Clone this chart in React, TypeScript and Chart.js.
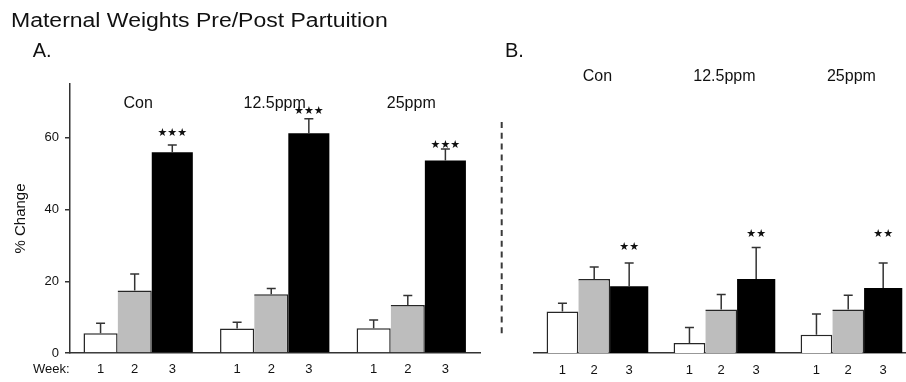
import React, { useEffect, useRef } from 'react';
import { Chart, registerables } from 'chart.js';

Chart.register(...registerables);

// ---------- data ----------
const groups = ['Con', '12.5ppm', '25ppm'];
const weekLabels = ['1', '2', '3'];
const yTicks = [0, 20, 40, 60];

// Panel A
const aWeek1 = [5.5, 6.8, 6.9];
const aWeek1Err = [2.8, 1.8, 2.3];
const aWeek2 = [17.4, 16.4, 13.4];
const aWeek2Err = [4.6, 1.6, 2.6];
const aWeek3 = [56.0, 61.3, 53.7];
const aWeek3Err = [2.0, 4.0, 3.2];
const aSig = ['★★★', '★★★', '★★★'];
const aSigLevel = [61.4, 67.5, 58.0];

// Panel B
const bWeek1 = [11.6, 2.8, 5.1];
const bWeek1Err = [2.3, 4.3, 5.8];
const bWeek2 = [20.6, 12.1, 12.1];
const bWeek2Err = [3.4, 4.2, 4.0];
const bWeek3 = [18.6, 20.6, 18.1];
const bWeek3Err = [6.5, 8.8, 7.0];
const bSig = ['★★', '★★', '★★'];
const bSigLevel = [29.5, 33.1, 33.1];

const FONT = '"Liberation Sans", Arial, Helvetica, sans-serif';
const INK = '#111111';
const LINE = '#333333';

type PanelCfg = {
  values: number[][];
  errs: number[][];
  sig: string[];
  sigLevel: number[];
  xMin: number;
  xMax: number;
  showYAxis: boolean;
  groupLabelOffset: number;
  weekLabelOffset: number;
  showWeekWord: boolean;
  dashed: boolean;
  padLeft: number;
  padRight: number;
};

function makeChart(canvas: HTMLCanvasElement, cfg: PanelCfg) {
  const fills = ['#ffffff', '#bdbdbd', '#000000'];
  const borders: any[] = [
    { left: 1.5, top: 1.5, right: 1.5, bottom: 0 },
    { left: 0, top: 1.5, right: 1.5, bottom: 0 },
    0,
  ];
  const catPct = [0.75, 0.75, 0.826];
  const barPct = [1, 1, 1.092];

  const datasets = cfg.values.map((vals, w) => ({
    label: 'Week ' + weekLabels[w],
    data: vals.map((y, i) => ({ x: i, y })),
    backgroundColor: fills[w],
    borderColor: '#262626',
    borderWidth: borders[w],
    borderSkipped: 'start',
    categoryPercentage: catPct[w],
    barPercentage: barPct[w],
  }));

  const decor = {
    id: 'decor',
    beforeDraw(chart: any) {
      if (!cfg.dashed) return;
      const ctx = chart.ctx;
      const area = chart.chartArea;
      ctx.save();
      ctx.strokeStyle = '#3a3a3a';
      ctx.lineWidth = 2;
      ctx.setLineDash([6, 4.8]);
      const x = area.left - 31.6;
      ctx.beginPath();
      ctx.moveTo(x, area.top + 38);
      ctx.lineTo(x, area.bottom - 19);
      ctx.stroke();
      ctx.restore();
    },
    afterDatasetsDraw(chart: any) {
      const ctx = chart.ctx;
      const ys = chart.scales.y;
      const area = chart.chartArea;
      ctx.save();
      // error bars
      ctx.strokeStyle = LINE;
      ctx.lineWidth = 1.5;
      cfg.values.forEach((vals, w) => {
        const meta = chart.getDatasetMeta(w);
        meta.data.forEach((bar: any, i: number) => {
          const top = ys.getPixelForValue(vals[i] + cfg.errs[w][i]);
          ctx.beginPath();
          ctx.moveTo(bar.x, bar.y);
          ctx.lineTo(bar.x, top);
          ctx.moveTo(bar.x - 4.5, top);
          ctx.lineTo(bar.x + 4.5, top);
          ctx.stroke();
        });
      });
      // week labels
      ctx.fillStyle = INK;
      ctx.font = '13px ' + FONT;
      ctx.textAlign = 'center';
      ctx.textBaseline = 'alphabetic';
      cfg.values.forEach((_, w) => {
        const meta = chart.getDatasetMeta(w);
        meta.data.forEach((bar: any) => {
          ctx.fillText(weekLabels[w], bar.x, area.bottom + cfg.weekLabelOffset);
        });
      });
      if (cfg.showWeekWord) {
        ctx.textAlign = 'right';
        ctx.fillText('Week:', area.left - 0.5, area.bottom + cfg.weekLabelOffset);
      }
      // group labels
      const m0 = chart.getDatasetMeta(0);
      const m2 = chart.getDatasetMeta(2);
      ctx.font = '16px ' + FONT;
      ctx.textAlign = 'center';
      groups.forEach((g, i) => {
        const b0 = m0.data[i];
        const b2 = m2.data[i];
        const cx = (b0.x - b0.width / 2 + b2.x + b2.width / 2) / 2;
        ctx.fillText(g, cx, area.top + cfg.groupLabelOffset);
      });
      // significance stars
      ctx.font = '11px "DejaVu Sans", sans-serif';
      ctx.textBaseline = 'middle';
      cfg.sig.forEach((s, i) => {
        const b2 = m2.data[i];
        ctx.fillText(s, b2.x, ys.getPixelForValue(cfg.sigLevel[i]));
      });
      ctx.restore();
    },
  };

  return new Chart(canvas, {
    type: 'bar',
    data: { datasets: datasets as any },
    plugins: [decor],
    options: {
      responsive: false,
      maintainAspectRatio: false,
      animation: false,
      layout: { padding: { left: cfg.padLeft, right: cfg.padRight, top: 84, bottom: 29 } },
      plugins: { legend: { display: false }, tooltip: { enabled: false }, title: { display: false } },
      scales: {
        x: {
          type: 'linear',
          offset: false,
          min: cfg.xMin,
          max: cfg.xMax,
          grid: { display: false, offset: false },
          ticks: { display: false },
          border: { display: true, color: LINE, width: 1.5 },
          afterBuildTicks: (s: any) => {
            s.ticks = groups.map((_, i) => ({ value: i }));
          },
          afterFit: (s: any) => {
            s.height = 0;
          },
        },
        y: {
          display: cfg.showYAxis,
          min: 0,
          max: 75,
          afterBuildTicks: (s: any) => {
            s.ticks = yTicks.map((v) => ({ value: v }));
          },
          afterFit: (s: any) => {
            if (cfg.showYAxis) s.width = 70;
          },
          grid: { display: true, drawOnChartArea: false, drawTicks: true, tickLength: 5, color: LINE, lineWidth: 1.5 },
          border: { display: true, color: LINE, width: 1.5 },
          ticks: { color: INK, font: { family: FONT, size: 13 }, padding: 6 },
          title: {
            display: true,
            text: '% Change',
            color: INK,
            font: { family: FONT, size: 15 },
            padding: { top: 12, bottom: 0 },
          },
        },
      },
    } as any,
  });
}

export default function App() {
  const refA = useRef<HTMLCanvasElement>(null);
  const refB = useRef<HTMLCanvasElement>(null);

  useEffect(() => {
    if (!refA.current || !refB.current) return;
    const chartA = makeChart(refA.current, {
      values: [aWeek1, aWeek2, aWeek3],
      errs: [aWeek1Err, aWeek2Err, aWeek3Err],
      sig: aSig,
      sigLevel: aSigLevel,
      xMin: -0.4738,
      xMax: 2.5288,
      showYAxis: true,
      groupLabelOffset: 24.3,
      weekLabelOffset: 20.3,
      showWeekWord: true,
      dashed: false,
      padLeft: 0,
      padRight: 10,
    });
    const chartB = makeChart(refB.current, {
      values: [bWeek1, bWeek2, bWeek3],
      errs: [bWeek1Err, bWeek2Err, bWeek3Err],
      sig: bSig,
      sigLevel: bSigLevel,
      xMin: -0.4795,
      xMax: 2.455,
      showYAxis: false,
      groupLabelOffset: -3.3,
      weekLabelOffset: 20.6,
      showWeekWord: false,
      dashed: true,
      padLeft: 43.3,
      padRight: 0,
    });
    return () => {
      chartA.destroy();
      chartB.destroy();
    };
  }, []);

  const textStyle: React.CSSProperties = {
    position: 'absolute',
    fontFamily: FONT,
    color: INK,
    whiteSpace: 'nowrap',
    lineHeight: '20px',
    fontSize: 20,
    margin: 0,
  };

  return (
    <div
      style={{
        position: 'absolute',
        left: 0,
        top: 0,
        width: 906,
        height: 382,
        overflow: 'hidden',
        background: '#ffffff',
      }}
    >
      <canvas
        ref={refA}
        width={490}
        height={382}
        style={{ position: 'absolute', left: 0, top: 0, width: 490, height: 382 }}
      />
      <canvas
        ref={refB}
        width={416}
        height={382}
        style={{ position: 'absolute', left: 490, top: 0, width: 416, height: 382 }}
      />
      <div style={{ ...textStyle, left: 11, top: 10.4, transform: 'scaleX(1.15)', transformOrigin: 'left top' }}>
        Maternal Weights Pre/Post Partuition
      </div>
      <div style={{ ...textStyle, left: 32.7, top: 40.4 }}>A.</div>
      <div style={{ ...textStyle, left: 505, top: 39.8 }}>B.</div>
    </div>
  );
}
